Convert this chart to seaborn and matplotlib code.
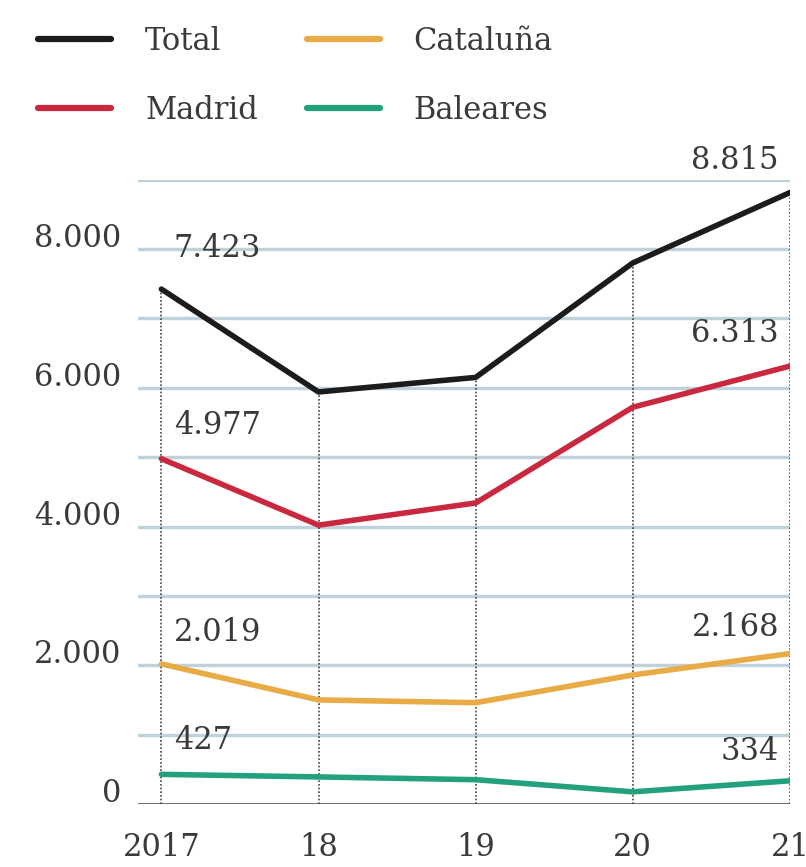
import matplotlib
matplotlib.use('Agg')
import matplotlib.pyplot as plt
import matplotlib.transforms as mtransforms
import numpy as np
import pandas as pd
import seaborn as sns

# Data
years = [2017, 2018, 2019, 2020, 2021]
year_labels = ['2017', '18', '19', '20', '21']
total = [7423, 5940, 6150, 7800, 8815]
madrid = [4977, 4020, 4340, 5720, 6313]
cataluna = [2019, 1500, 1460, 1860, 2168]
baleares = [427, 390, 350, 175, 334]

series_names = ['Total', 'Madrid', 'Cataluña', 'Baleares']
colors = {'Total': '#1c1c1c', 'Madrid': '#c9283e',
          'Cataluña': '#e9ab45', 'Baleares': '#23a07c'}

df = pd.DataFrame({
    'year': years * 4,
    'value': total + madrid + cataluna + baleares,
    'region': [n for n in series_names for _ in years],
})

sns.set_theme(style='white')
plt.rcParams['font.family'] = ['DejaVu Serif']
FS = 22
TXT = '#3a3a3a'

fig = plt.figure(figsize=(8.06, 8.67), dpi=100)
ax = fig.add_axes([0.171, 0.0727, 0.809, 0.72])

# light horizontal grid
for yv in range(1000, 10000, 1000):
    ax.axhline(yv, color='#bfd2dc', lw=2.4, zorder=0)
# dotted verticals from baseline up to the total line
ax.vlines(years, 0, total, colors='#444444', linestyles=(0, (1, 1.2)), lw=1.2, zorder=1)
ax.axhline(0, color='#444444', lw=1.8, zorder=1)

sns.lineplot(data=df, x='year', y='value', hue='region', hue_order=series_names,
             palette=colors, lw=4, ax=ax, legend=False, zorder=3)

ax.set_xlim(2016.85, 2021)
ax.set_ylim(0, 9000)
for s in ax.spines.values():
    s.set_visible(False)

ax.set_yticks([0, 2000, 4000, 6000, 8000])
ax.set_yticklabels(['0', '2.000', '4.000', '6.000', '8.000'])
ax.set_xticks(years)
ax.set_xticklabels(year_labels)
ax.tick_params(axis='both', length=0, labelsize=FS, labelcolor=TXT)
ax.tick_params(axis='y', pad=12)
ax.tick_params(axis='x', pad=20)
ax.set_xlabel('')
ax.set_ylabel('')
off = mtransforms.ScaledTranslation(0, 10 / 72, fig.dpi_scale_trans)
for lab in ax.get_yticklabels():
    lab.set_transform(lab.get_transform() + off)

# value labels at the start and end of each line
left_y = [8010, 5460, 2470, 920]
right_y = [9280, 6790, 2540, 750]
starts = [total[0], madrid[0], cataluna[0], baleares[0]]
ends = [total[-1], madrid[-1], cataluna[-1], baleares[-1]]
for v, yy in zip(starts, left_y):
    ax.text(2017.08, yy, f'{v:,}'.replace(',', '.'), fontsize=FS, color=TXT,
            ha='left', va='center')
for v, yy in zip(ends, right_y):
    ax.text(2020.93, yy, f'{v:,}'.replace(',', '.'), fontsize=FS, color=TXT,
            ha='right', va='center', clip_on=False)

handles = [plt.Line2D([], [], color=colors[n], lw=4.5) for n in series_names]
fig.legend(handles, series_names, loc='upper left', bbox_to_anchor=(0.015, 1.0),
           ncol=2, frameon=False, fontsize=FS, handlelength=2.4,
           handletextpad=1.1, columnspacing=1.6, labelspacing=1.25,
           borderpad=0.35, labelcolor=TXT)

fig.savefig('out.png', dpi=100)
